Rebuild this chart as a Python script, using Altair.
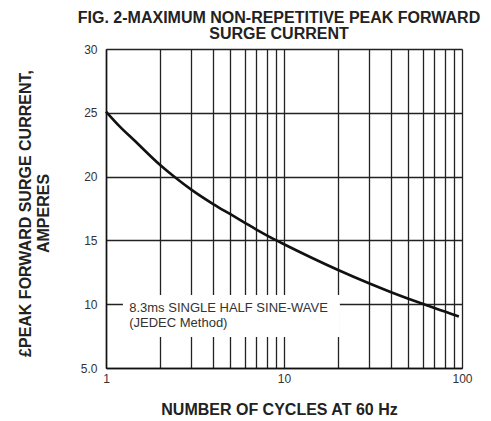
import altair as alt
import pandas as pd

# Curve values
cycles = [1, 1.2, 1.44, 2, 2.44, 3, 4, 5, 6, 7, 8, 9, 10, 20, 30, 40, 50, 60, 70, 80, 90, 96]
current = [25.1, 23.9, 22.85, 20.95, 19.95, 19.0, 17.85, 17.05, 16.4, 15.85, 15.4, 15.02, 14.7,
           12.7, 11.64, 10.94, 10.43, 10.03, 9.70, 9.42, 9.17, 9.04]

x_grid = [1, 2, 3, 4, 5, 6, 7, 8, 9, 10, 20, 30, 40, 50, 60, 70, 80, 90, 100]
y_ticks = [5, 10, 15, 20, 25, 30]

note_lines = ["8.3ms SINGLE HALF SINE-WAVE", "(JEDEC Method)"]
note_x = [1.35, 1.35]
note_y = [9.7, 8.55]

box = pd.DataFrame({"x": [1.245], "x2": [20.6], "y": [7.43], "y2": [10.72]})
curve = pd.DataFrame({"cycles": cycles, "current": current})
notes = pd.DataFrame({"x": note_x, "y": note_y, "t": note_lines})

FONT = "Liberation Sans"

xscale = alt.Scale(type="log", domain=[1, 100], nice=False)
yscale = alt.Scale(domain=[5, 30], nice=False, zero=False)

x_axis = alt.Axis(
    values=x_grid,
    ticks=False,
    grid=True,
    gridColor="#222222",
    gridWidth=1.3,
    gridOpacity=1,
    domainColor="#111111",
    domainWidth=1.5,
    labelExpr="(datum.value == 1 || datum.value == 10 || datum.value == 100) ? format(datum.value, 'd') : ''",
    labelFont=FONT,
    labelFontSize=12,
    labelColor="#333333",
    labelPadding=5,
    labelFlush=False,
    labelOverlap=False,
    title="NUMBER OF CYCLES AT 60 Hz",
    titleFont=FONT,
    titleFontSize=16,
    titleFontWeight="bold",
    titleColor="#222222",
    titleX=173,
    titleY=41,
    titleBaseline="middle",
    titleAnchor="middle",
    titleAlign="center",
)

y_axis = alt.Axis(
    values=y_ticks,
    ticks=False,
    grid=True,
    gridColor="#222222",
    gridWidth=1.3,
    gridOpacity=1,
    domainColor="#111111",
    domainWidth=1.5,
    labelExpr="datum.value == 5 ? '5.0' : format(datum.value, 'd')",
    labelFont=FONT,
    labelFontSize=12,
    labelColor="#333333",
    labelPadding=9,
    labelFlush=False,
    labelOverlap=False,
    title=["£PEAK  FORWARD SURGE CURRENT,", "AMPERES"],
    titleFont=FONT,
    titleFontSize=16,
    titleFontWeight="bold",
    titleColor="#222222",
    titleAngle=270,
    titleX=-81,
    titleY=164,
    titleBaseline="middle",
    titleAlign="center",
    titleLineHeight=18,
)

rect = alt.Chart(box).mark_rect(color="white", opacity=1).encode(
    x=alt.X("x:Q", scale=xscale, axis=x_axis),
    x2="x2:Q",
    y=alt.Y("y:Q", scale=yscale, axis=y_axis),
    y2="y2:Q",
)

line = alt.Chart(curve).mark_line(color="#111111", strokeWidth=2.6, interpolate="monotone").encode(
    x=alt.X("cycles:Q", scale=xscale),
    y=alt.Y("current:Q", scale=yscale),
)

text = alt.Chart(notes).mark_text(
    align="left", baseline="middle", font=FONT, fontSize=13, color="#333333"
).encode(
    x=alt.X("x:Q", scale=xscale),
    y=alt.Y("y:Q", scale=yscale),
    text="t:N",
)

chart = alt.layer(rect, line, text).properties(
    width=356,
    height=319,
    autosize=alt.AutoSizeParams(type="none"),
    padding={"left": 98, "top": 41, "right": 21, "bottom": 60},
    title=alt.TitleParams(
        text=["FIG. 2-MAXIMUM NON-REPETITIVE PEAK FORWARD", "SURGE CURRENT"],
        font=FONT,
        fontSize=16,
        fontWeight="bold",
        color="#222222",
        anchor="middle",
        dx=-5,
        dy=7,
        offset=8,
        lineHeight=16,
    ),
).configure_view(stroke=None).configure(background="white")

chart.save("out.html", embed_options={"renderer": "svg", "actions": False})
